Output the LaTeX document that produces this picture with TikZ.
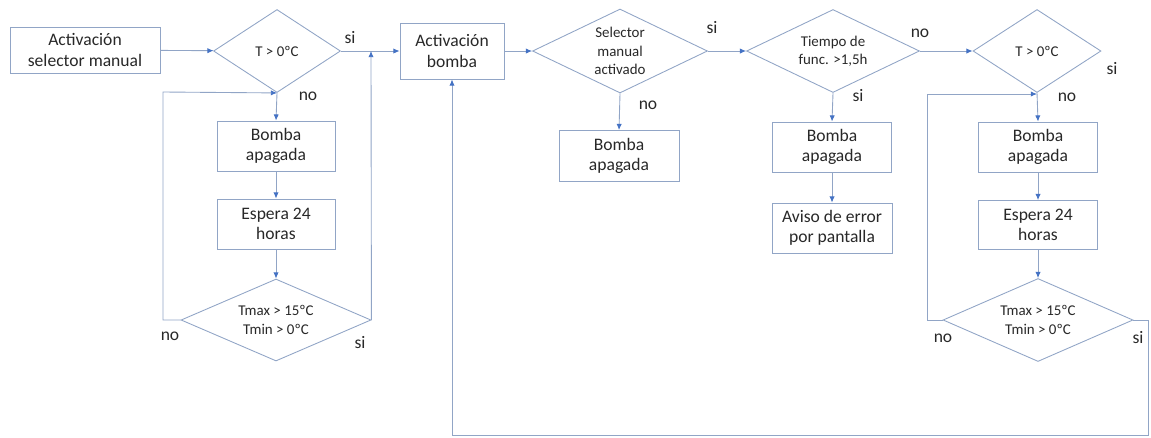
\documentclass[tikz,border=0pt]{standalone}
\usepackage{fontspec}
\setmainfont{Carlito}
\usetikzlibrary{shapes.geometric, arrows.meta}

\definecolor{borde}{RGB}{145,165,198}
\definecolor{punta}{RGB}{68,114,196}
\definecolor{texto}{RGB}{40,40,40}

\tikzset{
    caja/.style = {draw = borde, line width = 0.5pt, rectangle, align = center, inner sep = 0pt, text = texto, font = \fontsize{10}{11.5}\selectfont},
    rombo/.style = {draw = borde, line width = 0.5pt, diamond, align = center, inner sep = 0pt, text = texto, font = \fontsize{8.5}{10.5}\selectfont},
    flecha/.style = {draw = borde, line width = 0.5pt, -{Latex[length = 3.5pt, width = 3pt, color = punta]}},
    etiqueta/.style = {text = texto, inner sep = 0pt, font = \fontsize{10}{12}\selectfont}
}

\begin{document}
\begin{tikzpicture}[x = 0.02cm, y = -0.02cm]
                \useasboundingbox (0, 0) rectangle (1151, 437);
                \draw
                    (  85,  50) node[caja, minimum width = 3cm,    minimum height = 0.92cm](selector){Activación\\selector manual}
                    ( 277,  51) node[rombo, minimum width = 2.54cm, minimum height = 1.66cm, shape aspect = 1.53](temp1){T > 0ºC}
                    ( 276, 146) node[caja, minimum width = 2.36cm, minimum height = 1cm](apag1){Bomba\\apagada}
                    ( 276, 224) node[caja, minimum width = 2.36cm, minimum height = 1cm](espera1){Espera 24\\horas}
                    ( 276, 320) node[rombo, minimum width = 3.8cm,  minimum height = 1.64cm, shape aspect = 2.3](clima1){Tmax > 15ºC\\Tmin > 0ºC}

                    ( 452,  51) node[caja, minimum width = 2.08cm, minimum height = 1.12cm](bomba){Activación\\bomba}
                    ( 620,  51) node[rombo, minimum width = 3.5cm,  minimum height = 1.68cm, shape aspect = 2.08](manual){Selector\\manual\\activado}
                    ( 619, 156) node[caja, minimum width = 2.4cm,  minimum height = 1.02cm](apag2){Bomba\\apagada}

                    ( 833,  51) node[rombo, minimum width = 3.46cm, minimum height = 1.66cm, shape aspect = 2.08](tiempo){Tiempo de\\func. >1,5h}
                    ( 832, 147) node[caja, minimum width = 2.38cm, minimum height = 1cm](apag3){Bomba\\apagada}
                    ( 832, 228) node[caja, minimum width = 2.4cm,  minimum height = 1cm](aviso){Aviso de error\\por pantalla}

                    (1037,  51) node[rombo, minimum width = 2.56cm, minimum height = 1.66cm, shape aspect = 1.54](temp2){T > 0ºC}
                    (1038, 147) node[caja, minimum width = 2.38cm, minimum height = 1cm](apag4){Bomba\\apagada}
                    (1038, 225) node[caja, minimum width = 2.38cm, minimum height = 0.98cm](espera2){Espera 24\\horas}
                    (1038, 320) node[rombo, minimum width = 3.8cm,  minimum height = 1.66cm, shape aspect = 2.3](clima2){Tmax > 15ºC\\Tmin > 0ºC}
                ;
                % etiquetas si / no
                \node[etiqueta] (si1)  at ( 350,  38) {si};
                \node[etiqueta] (no1)  at ( 308,  96) {no};
                \node[etiqueta] (no2)  at ( 170, 336) {no};
                \node[etiqueta] (si2)  at ( 360, 343) {si};
                \node[etiqueta] (si3)  at ( 712,  28) {si};
                \node[etiqueta] (no3)  at ( 648, 105) {no};
                \node[etiqueta] (no4)  at ( 920,  33) {no};
                \node[etiqueta] (si4)  at ( 858,  96) {si};
                \node[etiqueta] (si5)  at (1112,  69) {si};
                \node[etiqueta] (no5)  at (1067,  97) {no};
                \node[etiqueta] (no6)  at ( 943, 338) {no};
                \node[etiqueta] (si6)  at (1138, 338) {si};

                \coordinate (cruce1) at (371,  51);
                \coordinate (vuelta1) at (163,  92);
                \coordinate (vuelta2) at (927,  94);
                \coordinate (esquina) at (1148, 435);

                \draw [flecha] (selector) -- (temp1);
                \draw [flecha] (temp1.east) -- (bomba.west);
                \draw [flecha] (temp1.south) -- (apag1.north);
                \draw [flecha] (apag1) -- (espera1);
                \draw [flecha] (espera1) -- (clima1.north);
                \draw [flecha] (clima1.west) -| (vuelta1) -- (temp1.south);
                \draw [flecha] (clima1.east) -- (cruce1);

                \draw [flecha] (bomba) -- (manual);
                \draw [flecha] (manual.south) -- (apag2.north);
                \draw [flecha] (manual.east) -- (tiempo.west);
                \draw [flecha] (tiempo.south) -- (apag3.north);
                \draw [flecha] (apag3) -- (aviso);
                \draw [flecha] (tiempo.east) -- (temp2.west);

                \draw [flecha] (temp2.south) -- (apag4.north);
                \draw [flecha] (apag4) -- (espera2);
                \draw [flecha] (espera2) -- (clima2.north);
                \draw [flecha] (clima2.west) -| (vuelta2) -- (vuelta2 -| temp2.south);
                \draw [flecha] (clima2.east) -| (esquina) -| (bomba.south);
            \end{tikzpicture}
\end{document}
